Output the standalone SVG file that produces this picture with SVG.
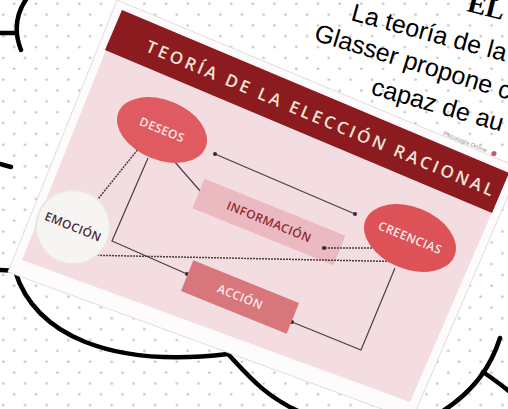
<svg xmlns="http://www.w3.org/2000/svg" width="508" height="409" viewBox="0 0 508 409">
<defs>
<pattern id="dots" width="21.7" height="21.7" patternUnits="userSpaceOnUse">
<circle cx="3.3" cy="14.5" r="1.3" fill="#c2c2c2"/>
<circle cx="14.15" cy="3.65" r="1.3" fill="#c2c2c2"/>
</pattern>
<marker id="dot" viewBox="0 0 4 4" refX="2" refY="2" markerWidth="4" markerHeight="4" markerUnits="userSpaceOnUse">
<circle cx="2" cy="2" r="2" fill="#3a2a2c"/>
</marker>
<style>
.cloud{fill:none;stroke:#000;stroke-width:4.5;stroke-linecap:round}
.lbl{font-family:"Open Sans","Liberation Sans",sans-serif;font-weight:600;font-size:12px;text-anchor:middle;letter-spacing:0.4px}
.con{fill:none;stroke:#4a3d40;stroke-width:1.2}
.hatch{stroke-dasharray:2 1;stroke-width:1.5}
.body{font-family:"Liberation Sans",Arial,sans-serif;font-size:25px;fill:#000}
</style>
</defs>
<rect width="508" height="409" fill="#fff"/>
<rect width="508" height="409" fill="url(#dots)"/>

<g id="cloud">
<path class="cloud" d="M27,-2 Q10,22 21,50"/>
<path class="cloud" d="M0,33 L16,33"/>
<path class="cloud" d="M0,164 L11,167"/>
<path class="cloud" d="M0,270 L40,272"/>
<path class="cloud" d="M15,271 C35,335 110,368 228,354"/>
<path class="cloud" d="M228,354 C245,372 265,398 305,414"/>
<path class="cloud" d="M500,338 C490,370 470,395 438,414"/>
<path class="cloud" d="M483,372 Q495,380 510,392"/>
</g>

<g id="card">
<polygon points="117,0 520,168 412,420 8,272" fill="#fdfbfb" stroke="#e2dcdc" stroke-width="1"/>
<polygon points="122,10 509,173 410,402 22,260" fill="#f3dde0"/>
<polygon points="122,10 509,173 492,213 105,50" fill="#8c1b20"/>
<g transform="translate(122,10) rotate(22.8)">
<text x="37" y="29" textLength="375" lengthAdjust="spacing" font-family="'Open Sans','Liberation Sans',sans-serif" font-weight="600" font-size="17" fill="#f3e4d6">TEORÍA DE LA ELECCIÓN RACIONAL</text>
</g>
<g transform="translate(468,143) rotate(22)">
<text x="-3" y="2" text-anchor="middle" font-family="'Liberation Sans',sans-serif" font-size="6" fill="#9a8f90">Psicología Online</text>
<circle cx="28" cy="0" r="2.5" fill="#c4585e"/>
</g>
</g>

<g id="connectors">
<line class="con" x1="167" y1="153" x2="208" y2="200" marker-start="url(#dot)" marker-end="url(#dot)"/>
<line class="con hatch" x1="143" y1="143" x2="90" y2="209" marker-start="url(#dot)" marker-end="url(#dot)"/>
<polyline class="con" points="148,158 112,241 187,274" marker-end="url(#dot)"/>
<line class="con" x1="215" y1="154" x2="355" y2="214" marker-start="url(#dot)" marker-end="url(#dot)"/>
</g>

<g id="informacion" transform="translate(269,222) rotate(22)">
<rect x="-76" y="-16" width="152" height="32" fill="#ebb9c0"/>
<text class="lbl" y="4" fill="#8e2a2f">INFORMACIÓN</text>
</g>

<g id="connectors2">
<line class="con hatch" x1="387" y1="248" x2="324" y2="248" marker-start="url(#dot)" marker-end="url(#dot)"/>
<line class="con hatch" x1="417" y1="262" x2="83" y2="255" marker-start="url(#dot)" marker-end="url(#dot)"/>
<polyline class="con" points="395,268 361,350 292,322" marker-end="url(#dot)"/>
</g>

<g id="deseos" transform="translate(162,130) rotate(22)">
<ellipse rx="47" ry="30" fill="#e05b61"/>
<text class="lbl" y="4" fill="#fbeaea">DESEOS</text>
</g>

<g id="creencias" transform="translate(410,238) rotate(22)">
<ellipse rx="48" ry="31" fill="#dd5257"/>
<text class="lbl" y="4" fill="#fbeaea">CREENCIAS</text>
</g>

<g id="emocion" transform="translate(73,227) rotate(22)">
<circle r="37" fill="#f7f4f4" stroke="#ede4e6" stroke-width="2"/>
<text class="lbl" y="4" fill="#4b2b33">EMOCIÓN</text>
</g>

<g id="accion" transform="translate(240,297) rotate(22)">
<rect x="-57" y="-16.5" width="114" height="33" fill="#d8777b"/>
<text class="lbl" y="4" fill="#fbeaea">ACCIÓN</text>
</g>

<g id="text">
<g transform="translate(466,11) rotate(14)"><text x="0" y="0" font-family="'Liberation Serif',serif" font-weight="bold" font-size="28">EL</text></g>
<g transform="translate(350,20) rotate(15)"><text class="body" x="0" y="0">La teoría de la</text></g>
<g transform="translate(313,40) rotate(17)"><text class="body" x="0" y="0">Glasser propone c</text></g>
<g transform="translate(370,94) rotate(16)"><text class="body" x="0" y="0">capaz de au</text></g>
</g>
</svg>
